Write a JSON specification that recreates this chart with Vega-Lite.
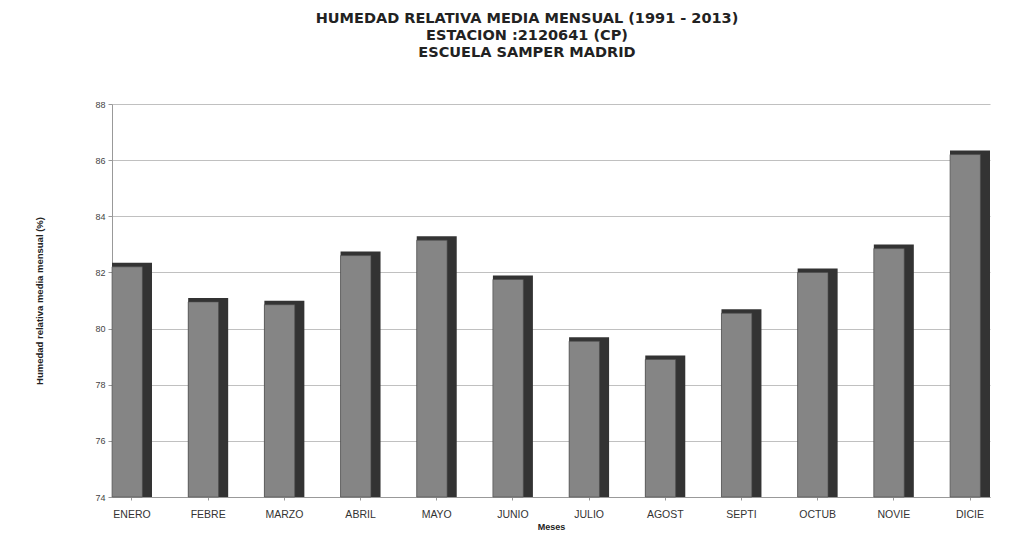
{
  "$schema": "https://vega.github.io/schema/vega-lite/v6.json",
  "width": 878,
  "height": 393,
  "padding": {"left": 34, "top": 10, "right": 24, "bottom": 3},
  "background": "white",
  "title": {
    "text": ["HUMEDAD RELATIVA MEDIA MENSUAL (1991 - 2013)", "ESTACION :2120641 (CP)", "ESCUELA SAMPER MADRID"],
    "font": "DejaVu Sans",
    "fontSize": 14.5,
    "fontWeight": "bold",
    "lineHeight": 17,
    "color": "#222",
    "anchor": "middle",
    "frame": "group",
    "dx": -24,
    "offset": 40
  },
  "data": {
    "values": [
      {"mes": "ENERO", "humedad": 82.2},
      {"mes": "FEBRE", "humedad": 80.95},
      {"mes": "MARZO", "humedad": 80.85},
      {"mes": "ABRIL", "humedad": 82.6},
      {"mes": "MAYO", "humedad": 83.15},
      {"mes": "JUNIO", "humedad": 81.75},
      {"mes": "JULIO", "humedad": 79.55},
      {"mes": "AGOST", "humedad": 78.9},
      {"mes": "SEPTI", "humedad": 80.55},
      {"mes": "OCTUB", "humedad": 82.0},
      {"mes": "NOVIE", "humedad": 82.85},
      {"mes": "DICIE", "humedad": 86.2}
    ]
  },
  "encoding": {
    "x": {
      "field": "mes",
      "type": "nominal",
      "sort": null,
      "scale": {"paddingInner": 0.475, "paddingOuter": 0},
      "axis": {
        "title": "Meses",
        "labelAngle": 0,
        "labelFont": "Liberation Sans",
        "labelFontSize": 10.5,
        "labelColor": "#333",
        "labelPadding": 9,
        "tickSize": 3,
        "tickColor": "#999",
        "domainColor": "#999",
        "titleFont": "Liberation Sans",
        "titleFontSize": 9,
        "titleFontWeight": "bold",
        "titleColor": "#222",
        "titlePadding": 3
      }
    },
    "y": {
      "field": "humedad",
      "type": "quantitative",
      "scale": {"domain": [74, 88], "nice": false, "zero": false},
      "axis": {
        "title": "Humedad relativa media mensual (%)",
        "values": [74, 76, 78, 80, 82, 84, 86, 88],
        "labelFont": "Liberation Sans",
        "labelFontSize": 9,
        "labelColor": "#444",
        "labelPadding": 3,
        "tickSize": 4,
        "tickColor": "#999",
        "domainColor": "#999",
        "gridColor": "#c0c0c0",
        "titleFont": "Liberation Sans",
        "titleFontSize": 9.5,
        "titleFontWeight": "bold",
        "titleColor": "#222",
        "titlePadding": 50
      }
    },
    "y2": {"datum": 74}
  },
  "layer": [
    {
      "mark": {"type": "bar", "fill": "#333333", "yOffset": -4, "width": {"band": 1}}
    },
    {
      "mark": {"type": "bar", "fill": "#858585", "stroke": "#4a4a4a", "strokeWidth": 0.6, "width": {"band": 0.76}, "xOffset": -4.8}
    }
  ],
  "config": {
    "view": {"stroke": null}
  }
}
